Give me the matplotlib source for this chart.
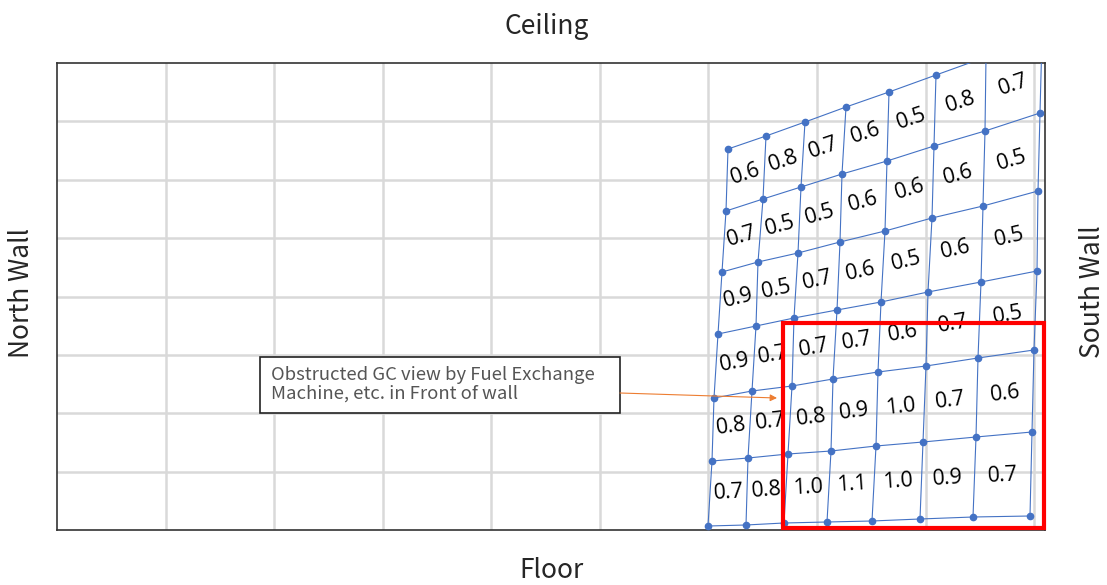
import matplotlib
matplotlib.use("Agg")
import matplotlib.pyplot as plt
from matplotlib.patches import Rectangle
import numpy as np

# Mesh nodes (wall coordinates, 0..988 across, 0..467 up), rows top -> bottom
node_x = np.array([
    [671, 709, 748, 789, 832, 879, 929, 985],
    [669, 706, 744, 785, 830, 877, 928, 983],
    [665, 701, 741, 783, 828, 875, 926, 981],
    [661, 699, 737, 780, 824, 871, 924, 980],
    [657, 695, 735, 776, 821, 869, 921, 977],
    [655, 691, 731, 774, 819, 866, 919, 975],
    [651, 689, 727, 770, 815, 863, 916, 973],
])
node_y = np.array([
    [381, 394, 408, 423, 438, 455, 473, 493],
    [319, 331, 343, 356, 369, 384, 399, 417],
    [258, 268, 277, 288, 299, 312, 324, 339],
    [196, 204, 212, 220, 228, 238, 248, 259],
    [132, 139, 144, 151, 158, 164, 172, 180],
    [69, 72, 76, 79, 84, 88, 93, 98],
    [4, 5, 7, 8, 9, 11, 13, 14],
])

# measured values per cell, rows top -> bottom
cell_values = [
    [0.6, 0.8, 0.7, 0.6, 0.5, 0.8, 0.7],
    [0.7, 0.5, 0.5, 0.6, 0.6, 0.6, 0.5],
    [0.9, 0.5, 0.7, 0.6, 0.5, 0.6, 0.5],
    [0.9, 0.7, 0.7, 0.7, 0.6, 0.7, 0.5],
    [0.8, 0.7, 0.8, 0.9, 1.0, 0.7, 0.6],
    [0.7, 0.8, 1.0, 1.1, 1.0, 0.9, 0.7],
]

wall_width, wall_height = 988, 467
n_grid_cols, n_grid_rows = 9.1, 8
highlight = (726, 2, 261, 205)  # x, y, w, h of the red box
note_text = "Obstructed GC view by Fuel Exchange\nMachine, etc. in Front of wall"

blue = "#4472C4"

fig = plt.figure(figsize=(11.07, 5.85), dpi=100)
ax = fig.add_axes([57 / 1107, 55 / 585, 988 / 1107, 467 / 585])
ax.set_xlim(0, wall_width)
ax.set_ylim(0, wall_height)

# light gray background grid
ax.set_xticks(np.arange(1, 10) * wall_width / n_grid_cols)
ax.set_yticks(np.arange(1, n_grid_rows) * wall_height / n_grid_rows)
ax.grid(True, color="#d9d9d9", linewidth=1.8)
ax.tick_params(length=0, labelbottom=False, labelleft=False)
for sp in ax.spines.values():
    sp.set_color("#333333")
    sp.set_linewidth(1.2)

# the measurement mesh
for r in range(node_x.shape[0]):
    ax.plot(node_x[r], node_y[r], "-o", color=blue, lw=0.8, ms=4.5, zorder=3)
for c in range(node_x.shape[1]):
    ax.plot(node_x[:, c], node_y[:, c], "-", color=blue, lw=0.8, zorder=3)

# values in the cells
for r, row in enumerate(cell_values):
    for c, v in enumerate(row):
        xs = [node_x[r, c], node_x[r, c + 1], node_x[r + 1, c], node_x[r + 1, c + 1]]
        ys = [node_y[r, c], node_y[r, c + 1], node_y[r + 1, c], node_y[r + 1, c + 1]]
        ang1 = np.degrees(np.arctan2(ys[1] - ys[0], xs[1] - xs[0]))
        ang2 = np.degrees(np.arctan2(ys[3] - ys[2], xs[3] - xs[2]))
        ax.text(np.mean(xs), np.mean(ys), f"{v:.1f}", rotation=(ang1 + ang2) / 2,
                rotation_mode="anchor", ha="center", va="center",
                fontsize=15.5, family="Open Sans", color="black", zorder=4)

# red highlight box
ax.add_patch(Rectangle(highlight[:2], highlight[2], highlight[3], fill=False,
                       edgecolor="#FF0000", lw=3, clip_on=False, zorder=5))

# note box with arrow
ax.add_patch(Rectangle((203, 117), 360, 56, facecolor="white", edgecolor="#222222",
                       lw=1.2, zorder=5))
ax.text(214, 146, note_text, ha="left", va="center", fontsize=13.3,
        family="Noto Sans CJK JP", color="#555555", linespacing=1.05, zorder=6)
ax.annotate("", xy=(720, 132), xytext=(563, 137),
            arrowprops=dict(arrowstyle="-|>", color="#ED7D31", lw=0.8,
                            mutation_scale=10, shrinkA=0, shrinkB=0), zorder=6)

lab = dict(fontsize=19, family="Noto Sans CJK JP", color="#262626",
           ha="center", va="center")
fig.text(547 / 1107, 1 - 27 / 585, "Ceiling", **lab)
fig.text(551 / 1107, 1 - 570 / 585, "Floor", **lab)
fig.text(22 / 1107, 1 - 293 / 585, "North Wall", rotation=90, **lab)
fig.text(1092 / 1107, 1 - 292 / 585, "South Wall", rotation=90, **lab)

fig.savefig("out.png", dpi=100)
